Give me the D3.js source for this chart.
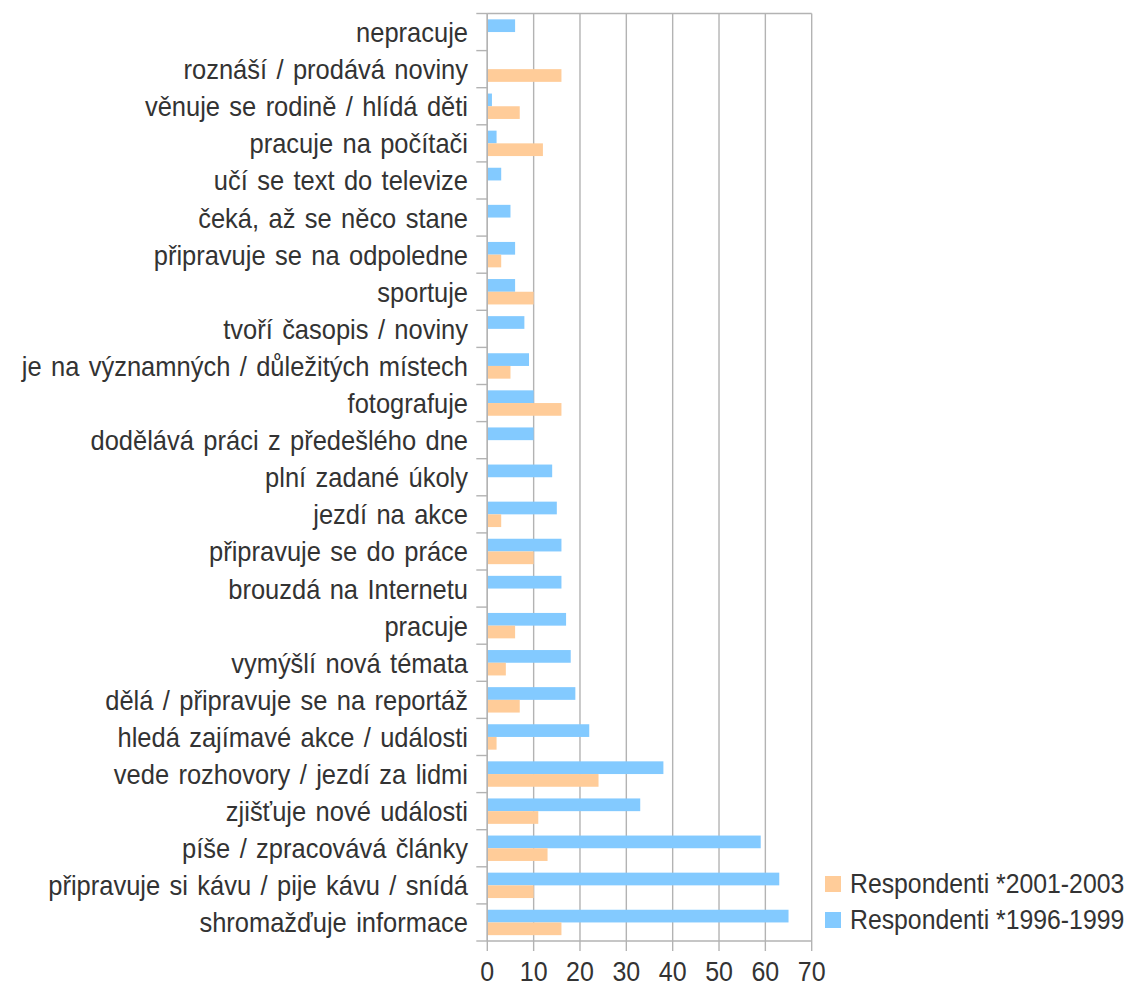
<!DOCTYPE html>
<html>
<head>
<meta charset="utf-8">
<script src="https://cdn.jsdelivr.net/npm/d3@7/dist/d3.min.js"></script>
<style>
  body { margin: 0; background: #fff; }
  text { font-family: "Liberation Sans", Arial, sans-serif; fill: #333; }
</style>
</head>
<body>
<svg id="chart" width="1135" height="984"></svg>
<script>
// categories, top to bottom
const categories = [
  "nepracuje",
  "roznáší / prodává noviny",
  "věnuje se rodině / hlídá děti",
  "pracuje na počítači",
  "učí se text do televize",
  "čeká, až se něco stane",
  "připravuje se na odpoledne",
  "sportuje",
  "tvoří časopis / noviny",
  "je na významných / důležitých místech",
  "fotografuje",
  "dodělává práci z předešlého dne",
  "plní zadané úkoly",
  "jezdí na akce",
  "připravuje se do práce",
  "brouzdá na Internetu",
  "pracuje",
  "vymýšlí nová témata",
  "dělá / připravuje se na reportáž",
  "hledá zajímavé akce / události",
  "vede rozhovory / jezdí za lidmi",
  "zjišťuje nové události",
  "píše / zpracovává články",
  "připravuje si kávu / pije kávu / snídá",
  "shromažďuje informace"
];
const resp9699 = [6, 0, 1, 2, 3, 5, 6, 6, 8, 9, 10, 10, 14, 15, 16, 16, 17, 18, 19, 22, 38, 33, 59, 63, 65];
const resp0103 = [0, 16, 7, 12, 0, 0, 3, 10, 0, 5, 16, 0, 0, 3, 10, 0, 6, 4, 7, 2, 24, 11, 13, 10, 16];
const seriesNames = ["Respondenti *1996-1999", "Respondenti *2001-2003"];
const seriesColors = ["#83caff", "#ffcc99"];
const xTicks = [0, 10, 20, 30, 40, 50, 60, 70];

const svg = d3.select("#chart");
const plotL = 487.3, plotR = 811.7, plotT = 13.5, plotB = 941;
const gridColor = "#b3b3b3";
const stretch = "scale(1,1.08)"; // text in the picture looks a bit taller than wide

const x = d3.scaleLinear().domain([0, 70]).range([plotL, plotR]);
const y = d3.scaleBand().domain(categories).range([plotT, plotB]).padding(0);
const sub = d3.scaleBand().domain(seriesNames).range([0, y.bandwidth()]).paddingInner(0).paddingOuter(0.46);

// grid lines
svg.append("g").selectAll("line").data(xTicks).enter().append("line")
  .attr("x1", d => x(d)).attr("x2", d => x(d))
  .attr("y1", plotT).attr("y2", plotB)
  .attr("stroke", gridColor).attr("stroke-width", 1.4);
// top border
svg.append("line").attr("x1", plotL).attr("x2", plotR).attr("y1", plotT).attr("y2", plotT)
  .attr("stroke", gridColor).attr("stroke-width", 1.4);

// bars
const rows = categories.map((c, i) => ({ cat: c, vals: [resp9699[i], resp0103[i]] }));
const grp = svg.append("g").selectAll("g").data(rows).enter().append("g")
  .attr("transform", d => "translate(0," + y(d.cat) + ")");
grp.selectAll("rect").data(d => d.vals.map((v, j) => ({ v: v, s: seriesNames[j], c: seriesColors[j] })))
  .enter().append("rect")
  .attr("x", x(0))
  .attr("y", d => sub(d.s))
  .attr("width", d => x(d.v) - x(0))
  .attr("height", sub.bandwidth())
  .attr("fill", d => d.c);

// left axis
const yAxis = svg.append("g");
yAxis.append("line").attr("x1", plotL).attr("x2", plotL).attr("y1", plotT).attr("y2", plotB)
  .attr("stroke", gridColor).attr("stroke-width", 1.4);
const bounds = categories.map(c => y(c)).concat([plotB]);
yAxis.selectAll("line.tick").data(bounds).enter().append("line")
  .attr("class", "tick")
  .attr("x1", plotL - 11).attr("x2", plotL).attr("y1", d => d).attr("y2", d => d)
  .attr("stroke", gridColor).attr("stroke-width", 1.4);
yAxis.selectAll("text").data(categories).enter().append("text")
  .attr("transform", d => "translate(468," + (y(d) + y.bandwidth() / 2 + 10) + ") " + stretch)
  .attr("text-anchor", "end")
  .style("font-size", "25.5px")
  .style("word-spacing", "2.3px")
  .text(d => d);

// bottom axis
const xAxis = svg.append("g");
xAxis.append("line").attr("x1", plotL).attr("x2", plotR).attr("y1", plotB).attr("y2", plotB)
  .attr("stroke", gridColor).attr("stroke-width", 1.4);
xAxis.selectAll("line.tick").data(xTicks).enter().append("line")
  .attr("class", "tick")
  .attr("x1", d => x(d)).attr("x2", d => x(d)).attr("y1", plotB).attr("y2", plotB + 10)
  .attr("stroke", gridColor).attr("stroke-width", 1.4);
xAxis.selectAll("text").data(xTicks).enter().append("text")
  .attr("transform", d => "translate(" + x(d) + ",981) " + stretch)
  .attr("text-anchor", "middle")
  .style("font-size", "25px")
  .text(d => d);

// legend (2001-2003 first)
const legend = [
  { name: seriesNames[1], color: seriesColors[1] },
  { name: seriesNames[0], color: seriesColors[0] }
];
const lg = svg.append("g").selectAll("g").data(legend).enter().append("g")
  .attr("transform", (d, i) => "translate(825," + (876 + i * 36) + ")");
lg.append("rect").attr("width", 16).attr("height", 16).attr("fill", d => d.color);
lg.append("text").attr("transform", "translate(25,16.5) " + stretch)
  .style("font-size", "24.8px").text(d => d.name);
</script>
</body>
</html>
